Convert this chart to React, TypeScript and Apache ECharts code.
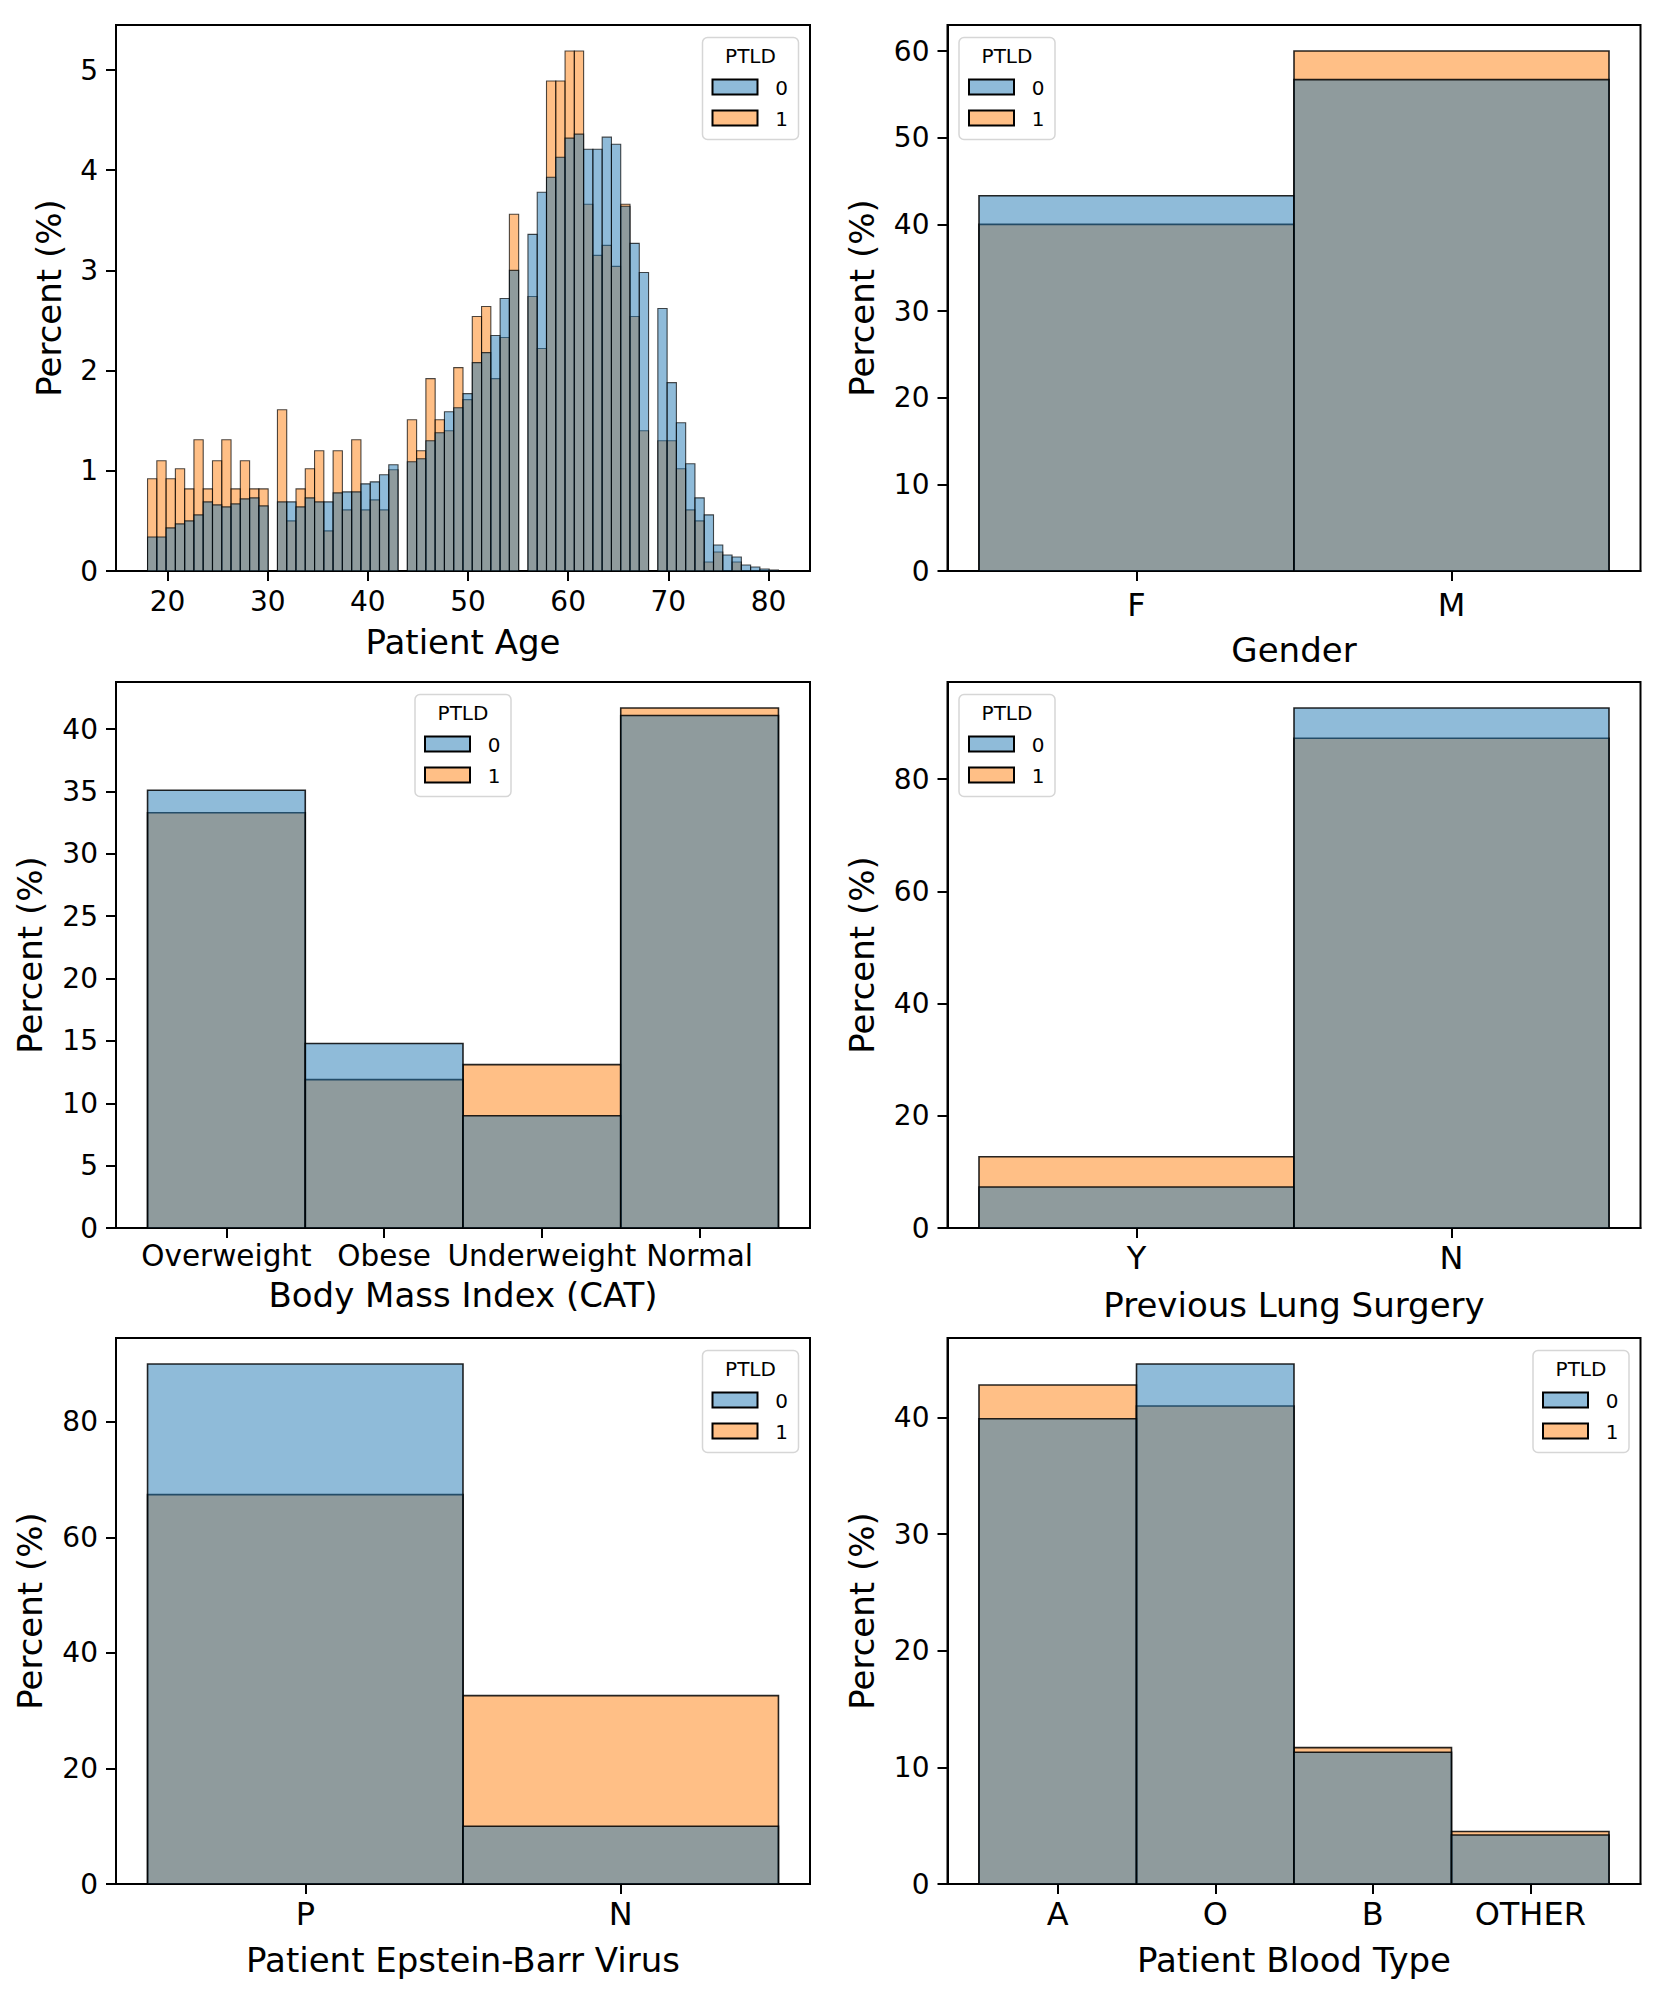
import React, { useEffect, useRef } from "react";
import * as echarts from "echarts";

// ---------------- DATA ----------------
// Patient Age histogram (68 equal bins from 18 to 81), percent per hue level
const AGE_MIN = 18;
const AGE_MAX = 81;
const AGE_BINS = 68;
const ageBlue = [
  0.34, 0.34, 0.43, 0.47, 0.5, 0.56, 0.69, 0.66, 0.64, 0.67, 0.72, 0.73, 0.65, 0,
  0.69, 0.69, 0.64, 0.73, 0.69, 0.69, 0.78, 0.79, 0.79, 0.87, 0.89, 0.96, 1.06, 0,
  1.09, 1.12, 1.3, 1.38, 1.59, 1.63, 1.77, 2.08, 2.18, 2.35, 2.72, 3.0, 0,
  3.36, 3.78, 3.93, 4.13, 4.32, 4.36, 4.21, 4.21, 4.33, 4.26, 3.64, 3.27, 2.98, 0,
  2.62, 1.88, 1.48, 1.07, 0.73, 0.56, 0.26, 0.16, 0.14, 0.06, 0.04, 0.02, 0.01,
];
const ageOrange = [
  0.92, 1.1, 0.92, 1.02, 0.82, 1.31, 0.82, 1.1, 1.31, 0.82, 1.1, 0.82, 0.82, 0,
  1.61, 0.5, 0.82, 1.02, 1.2, 0.4, 1.2, 0.61, 1.31, 0.61, 0.71, 0.61, 1.01, 0,
  1.51, 1.2, 1.92, 1.51, 1.4, 2.03, 1.71, 2.54, 2.64, 1.92, 2.33, 3.56, 0,
  2.74, 2.22, 4.89, 4.89, 5.19, 5.19, 3.66, 3.15, 3.25, 3.04, 3.66, 2.54, 1.4, 0,
  1.3, 1.3, 1.02, 0.61, 0.5, 0.09, 0.19, 0, 0.09, 0, 0, 0, 0,
];
const ageXTicks = [20, 30, 40, 50, 60, 70, 80];
const ageYTicks = [0, 1, 2, 3, 4, 5];

const genderCats = ["F", "M"];
const genderBlue = [43.3, 56.7];
const genderOrange = [40.0, 60.0];
const genderYTicks = [0, 10, 20, 30, 40, 50, 60];

const bmiCats = ["Overweight", "Obese", "Underweight", "Normal"];
const bmiBlue = [35.1, 14.8, 9.0, 41.1];
const bmiOrange = [33.3, 11.9, 13.1, 41.7];
const bmiYTicks = [0, 5, 10, 15, 20, 25, 30, 35, 40];

const surgeryCats = ["Y", "N"];
const surgeryBlue = [7.3, 92.7];
const surgeryOrange = [12.7, 87.3];
const surgeryYTicks = [0, 20, 40, 60, 80];

const ebvCats = ["P", "N"];
const ebvBlue = [90.0, 10.0];
const ebvOrange = [67.4, 32.6];
const ebvYTicks = [0, 20, 40, 60, 80];

const bloodCats = ["A", "O", "B", "OTHER"];
const bloodBlue = [39.9, 44.6, 11.3, 4.2];
const bloodOrange = [42.8, 41.0, 11.7, 4.5];
const bloodYTicks = [0, 10, 20, 30, 40];

const hueLevels = ["0", "1"];
const legendTitle = "PTLD";

// ---------------- STYLE ----------------
const FONT = "DejaVu Sans";
const BLUE = "rgba(31,119,180,0.5)";
const ORANGE = "rgba(255,127,14,0.5)";
const W = 1659;
const H = 1995;
const COLS = [
  { left: 116, width: 694 },
  { left: 947.5, width: 693 },
];
const ROWS = [25, 682, 1338];
const PH = 546;
const NAME_FONT = 34;

type Item = [number, number, number];

function histItems(vals: number[]): Item[] {
  const bw = (AGE_MAX - AGE_MIN) / AGE_BINS;
  const out: Item[] = [];
  vals.forEach((v, k) => {
    if (v > 0) out.push([AGE_MIN + k * bw, AGE_MIN + (k + 1) * bw, v]);
  });
  return out;
}
function catItems(vals: number[]): Item[] {
  return vals.map((v, i) => [i - 0.5, i + 0.5, v] as Item);
}

type PanelDef = {
  col: number;
  row: number;
  xMin: number;
  xMax: number;
  xTicks: number[];
  xFmt: (v: number) => string;
  xFont: number;
  xMargin: number;
  xName: string;
  xNameGap: number;
  yMax: number;
  yTicks: number[];
  yNameGap: number;
  blue: Item[];
  orange: Item[];
  edge: string;
  edgeWidth: number;
  legend: "left" | "right" | "center";
};

function catPanel(
  col: number,
  row: number,
  cats: string[],
  blue: number[],
  orange: number[],
  yTicks: number[],
  xName: string,
  xFont: number,
  xMargin: number,
  xNameGap: number,
  legend: "left" | "right" | "center"
): PanelDef {
  const n = cats.length;
  const maxV = Math.max(...blue, ...orange);
  return {
    col,
    row,
    xMin: -0.5 - 0.05 * n,
    xMax: n - 0.5 + 0.05 * n,
    xTicks: cats.map((_, i) => i),
    xFmt: (v: number) => cats[Math.round(v)] ?? "",
    xFont,
    xMargin,
    xName,
    xNameGap,
    yMax: maxV * 1.05,
    yTicks,
    yNameGap: 69,
    blue: catItems(blue),
    orange: catItems(orange),
    edge: "rgba(0,0,0,0.85)",
    edgeWidth: 1.6,
    legend,
  };
}

const ageMax = Math.max(...ageBlue, ...ageOrange);
const agePad = (AGE_MAX - AGE_MIN) * 0.05;

const panels: PanelDef[] = [
  {
    col: 0,
    row: 0,
    xMin: AGE_MIN - agePad,
    xMax: AGE_MAX + agePad,
    xTicks: ageXTicks,
    xFmt: (v: number) => String(v),
    xFont: 28,
    xMargin: 16,
    xName: "Patient Age",
    xNameGap: 54,
    yMax: ageMax * 1.05,
    yTicks: ageYTicks,
    yNameGap: 50,
    blue: histItems(ageBlue),
    orange: histItems(ageOrange),
    edge: "rgba(0,0,0,0.7)",
    edgeWidth: 1.1,
    legend: "right",
  },
  catPanel(1, 0, genderCats, genderBlue, genderOrange, genderYTicks, "Gender", 32, 18, 62, "left"),
  catPanel(0, 1, bmiCats, bmiBlue, bmiOrange, bmiYTicks, "Body Mass Index (CAT)", 29.5, 13, 50, "center"),
  catPanel(1, 1, surgeryCats, surgeryBlue, surgeryOrange, surgeryYTicks, "Previous Lung Surgery", 32, 14, 60, "left"),
  catPanel(0, 2, ebvCats, ebvBlue, ebvOrange, ebvYTicks, "Patient Epstein-Barr Virus", 32, 14, 59, "right"),
  catPanel(1, 2, bloodCats, bloodBlue, bloodOrange, bloodYTicks, "Patient Blood Type", 32, 14, 59, "right"),
];

const LEG_W = 96;
const LEG_H = 102;
const LEG_INSET_X = 11.5;
const LEG_INSET_Y = 12.5;

function legendGraphic(p: PanelDef) {
  const gl = COLS[p.col].left;
  const gw = COLS[p.col].width;
  const gt = ROWS[p.row];
  let x = gl + LEG_INSET_X;
  if (p.legend === "right") x = gl + gw - LEG_INSET_X - LEG_W;
  if (p.legend === "center") x = gl + gw / 2 - LEG_W / 2;
  const y = gt + LEG_INSET_Y;
  const fills = [BLUE, ORANGE];
  const children: any[] = [
    {
      type: "rect",
      shape: { x: 0, y: 0, width: LEG_W, height: LEG_H, r: 5 },
      style: { fill: "rgba(255,255,255,0.8)", stroke: "#d6d6d6", lineWidth: 1.5 },
    },
    {
      type: "text",
      x: LEG_W / 2,
      y: 18.5,
      style: {
        text: legendTitle,
        fontSize: 20,
        fontFamily: FONT,
        fill: "#000",
        textAlign: "center",
        textVerticalAlign: "middle",
      },
    },
  ];
  hueLevels.forEach((lvl, i) => {
    const hy = 42 + i * 31;
    children.push({
      type: "rect",
      shape: { x: 10, y: hy, width: 45, height: 15 },
      style: { fill: fills[i], stroke: "#000", lineWidth: 2 },
    });
    children.push({
      type: "text",
      x: 79,
      y: hy + 8,
      style: {
        text: lvl,
        fontSize: 20,
        fontFamily: FONT,
        fill: "#000",
        textAlign: "center",
        textVerticalAlign: "middle",
      },
    });
  });
  return { type: "group", x, y, z: 100, children };
}

function makeRender(fill: string, edge: string, lw: number) {
  return (params: any, api: any) => {
    const x0 = api.value(0);
    const x1 = api.value(1);
    const v = api.value(2);
    const p0 = api.coord([x0, v]);
    const p1 = api.coord([x1, 0]);
    return {
      type: "rect",
      shape: { x: p0[0], y: p0[1], width: p1[0] - p0[0], height: p1[1] - p0[1] },
      style: { fill, stroke: edge, lineWidth: lw },
    };
  };
}

function buildOption() {
  const grid: any[] = [];
  const xAxis: any[] = [];
  const yAxis: any[] = [];
  const series: any[] = [];
  const graphic: any[] = [];
  panels.forEach((p, i) => {
    grid.push({
      left: COLS[p.col].left,
      top: ROWS[p.row],
      width: COLS[p.col].width,
      height: PH,
      show: true,
      borderColor: "#000",
      borderWidth: 2,
      backgroundColor: "transparent",
    });
    xAxis.push({
      type: "value",
      gridIndex: i,
      min: p.xMin,
      max: p.xMax,
      axisLine: { show: true, onZero: false, lineStyle: { color: "#000", width: 2 } },
      axisTick: {
        show: true,
        customValues: p.xTicks,
        length: 10,
        lineStyle: { color: "#000", width: 2 },
      },
      axisLabel: {
        show: true,
        customValues: p.xTicks,
        formatter: (v: number) => p.xFmt(v),
        fontSize: p.xFont,
        fontFamily: FONT,
        color: "#000",
        margin: p.xMargin,
      },
      splitLine: { show: false },
      name: p.xName,
      nameLocation: "middle",
      nameGap: p.xNameGap,
      nameTextStyle: { fontSize: NAME_FONT, fontFamily: FONT, color: "#000" },
    });
    yAxis.push({
      type: "value",
      gridIndex: i,
      min: 0,
      max: p.yMax,
      axisLine: { show: true, onZero: false, lineStyle: { color: "#000", width: 2 } },
      axisTick: {
        show: true,
        customValues: p.yTicks,
        length: 10,
        lineStyle: { color: "#000", width: 2 },
      },
      axisLabel: {
        show: true,
        customValues: p.yTicks,
        formatter: (v: number) => String(v),
        fontSize: 28,
        fontFamily: FONT,
        color: "#000",
        margin: 18,
      },
      splitLine: { show: false },
      name: "Percent (%)",
      nameLocation: "middle",
      nameRotate: 90,
      nameGap: p.yNameGap,
      nameTextStyle: { fontSize: NAME_FONT, fontFamily: FONT, color: "#000" },
    });
    series.push({
      type: "custom",
      name: "1",
      xAxisIndex: i,
      yAxisIndex: i,
      coordinateSystem: "cartesian2d",
      renderItem: makeRender(ORANGE, p.edge, p.edgeWidth),
      encode: { x: [0, 1], y: 2 },
      data: p.orange,
      z: 2,
    });
    series.push({
      type: "custom",
      name: "0",
      xAxisIndex: i,
      yAxisIndex: i,
      coordinateSystem: "cartesian2d",
      renderItem: makeRender(BLUE, p.edge, p.edgeWidth),
      encode: { x: [0, 1], y: 2 },
      data: p.blue,
      z: 3,
    });
    graphic.push(legendGraphic(p));
  });
  return {
    animation: false,
    backgroundColor: "#ffffff",
    textStyle: { fontFamily: FONT },
    grid,
    xAxis,
    yAxis,
    series,
    graphic,
  };
}

export default function App() {
  const ref = useRef<HTMLDivElement>(null);
  useEffect(() => {
    document.body.style.margin = "0";
    if (!ref.current) return;
    const chart = echarts.init(ref.current, undefined, { renderer: "svg", width: W, height: H });
    chart.setOption(buildOption() as any);
    return () => chart.dispose();
  }, []);
  return (
    <div
      ref={ref}
      style={{ position: "absolute", left: 0, top: 0, width: W, height: H, background: "#fff" }}
    />
  );
}
